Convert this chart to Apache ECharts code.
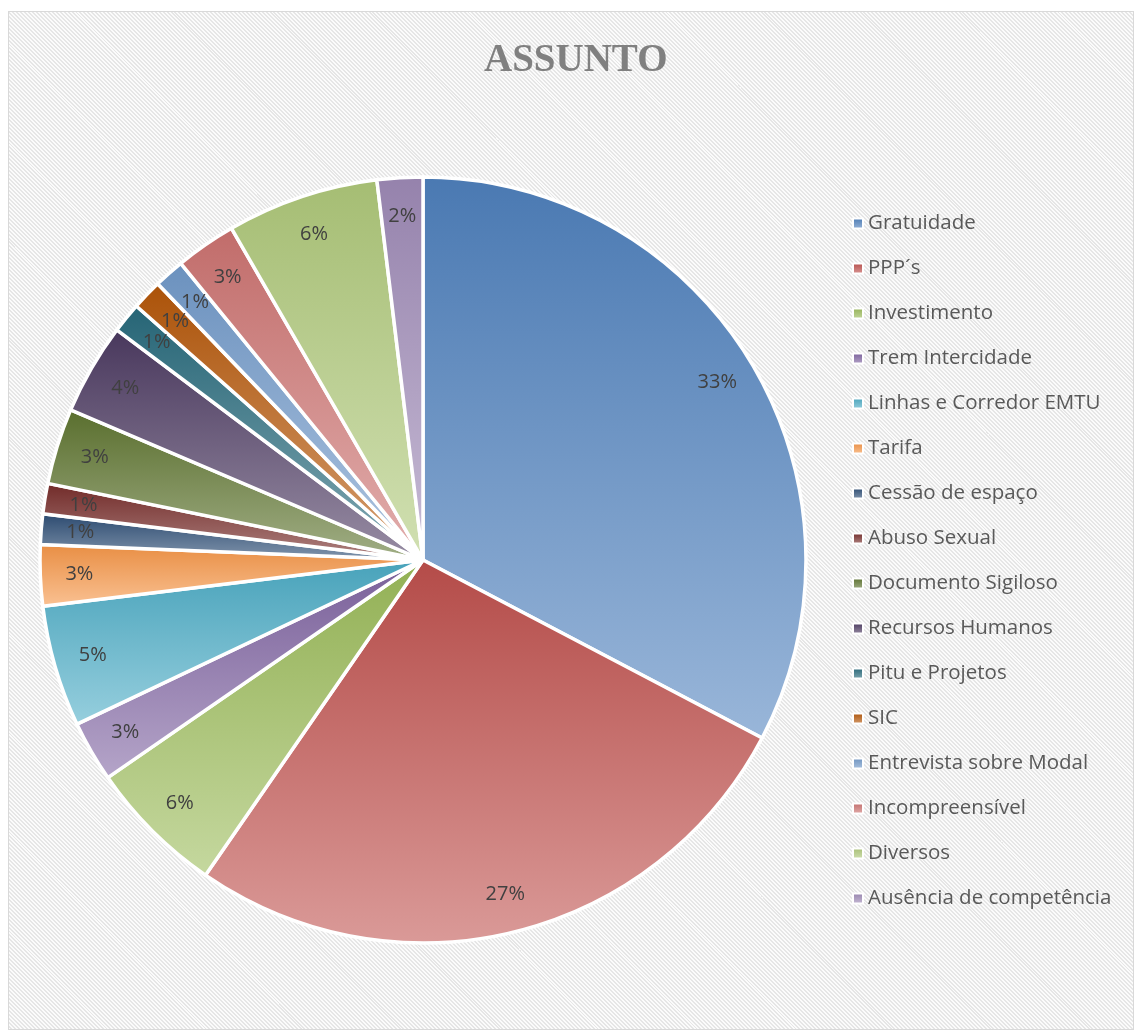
<!DOCTYPE html>
<html>
<head>
<meta charset="utf-8">
<script src="https://cdn.jsdelivr.net/npm/echarts@6/dist/echarts.min.js"></script>
<style>
    html, body { margin: 0; padding: 0; background: #fff; }
    #chart {
        position: absolute; left: 8px; top: 11px; width: 1126px; height: 1019px;
        box-sizing: border-box; border: 1px solid #d9d9d9;
        background: repeating-linear-gradient(45deg, #fbfbfb 0px, #fbfbfb 1.4px, #e6e6e6 1.4px, #e6e6e6 2.8px);
    }
</style>
</head>
<body>
<div id="chart"></div>
<script>
// dados do grafico
var categorias = ['Gratuidade', 'PPP´s', 'Investimento', 'Trem Intercidade', 'Linhas e Corredor EMTU',
    'Tarifa', 'Cessão de espaço', 'Abuso Sexual', 'Documento Sigiloso', 'Recursos Humanos',
    'Pitu e Projetos', 'SIC', 'Entrevista sobre Modal', 'Incompreensível', 'Diversos', 'Ausência de competência'];
var valores = [51, 42, 9, 4, 8, 4, 2, 2, 5, 6, 2, 2, 2, 4, 10, 3];

var cores = ['#4F81BD', '#C0504D', '#9BBB59', '#8064A2', '#4BACC6', '#F79646',
    '#2C4D75', '#772C2A', '#5F7530', '#4D3B62', '#276A7C', '#B65708',
    '#729ACA', '#CD7371', '#AFC97A', '#9F8AB7'];

var hex2rgb = function (h) {
    return [parseInt(h.substr(1, 2), 16), parseInt(h.substr(3, 2), 16), parseInt(h.substr(5, 2), 16)];
};
var mix = function (h, alvo, t) {
    var c = hex2rgb(h);
    return 'rgb(' + c.map(function (v) { return Math.round(v + (alvo - v) * t); }).join(',') + ')';
};
var gradiente = function (h) {
    return new echarts.graphic.LinearGradient(0, 0, 0, 1, [
        {offset: 0, color: mix(h, 0, 0.06)},
        {offset: 1, color: mix(h, 255, 0.42)}
    ]);
};

var dados = categorias.map(function (nome, i) {
    return {name: nome, value: valores[i], itemStyle: {color: gradiente(cores[i])}};
});
var rotulos = categorias.map(function (nome, i) {
    return {name: nome, value: valores[i]};
});

var chart = echarts.init(document.getElementById('chart'));
var centro = [414, 548], raio = 383;

chart.setOption({
    animation: false,
    title: {
        text: 'ASSUNTO',
        left: 470,
        top: 24,
        textStyle: {fontFamily: 'Liberation Serif', fontWeight: 'bold', fontSize: 39, color: '#808080'}
    },
    legend: {
        orient: 'vertical',
        left: 838,
        top: 196,
        icon: 'rect',
        itemWidth: 10,
        itemHeight: 10,
        itemGap: 24,
        data: categorias,
        textStyle: {fontFamily: 'Open Sans', fontSize: 20.5, color: '#595959', lineHeight: 20}
    },
    series: [{
        type: 'pie',
        center: centro,
        radius: [0, raio],
        startAngle: 90,
        label: {show: false},
        labelLine: {show: false},
        itemStyle: {borderColor: '#fff', borderWidth: 3.5},
        emphasis: {disabled: true},
        data: dados
    }, {
        type: 'pie',
        center: centro,
        radius: [raio * 0.78, raio],
        startAngle: 90,
        silent: true,
        avoidLabelOverlap: false,
        percentPrecision: 0,
        itemStyle: {color: 'rgba(0,0,0,0)', borderWidth: 0},
        label: {
            show: true,
            position: 'inside',
            formatter: '{d}%',
            fontFamily: 'Open Sans',
            fontSize: 20,
            color: '#404040'
        },
        labelLayout: {hideOverlap: false},
        labelLine: {show: false},
        data: rotulos
    }]
});
</script>
</body>
</html>
